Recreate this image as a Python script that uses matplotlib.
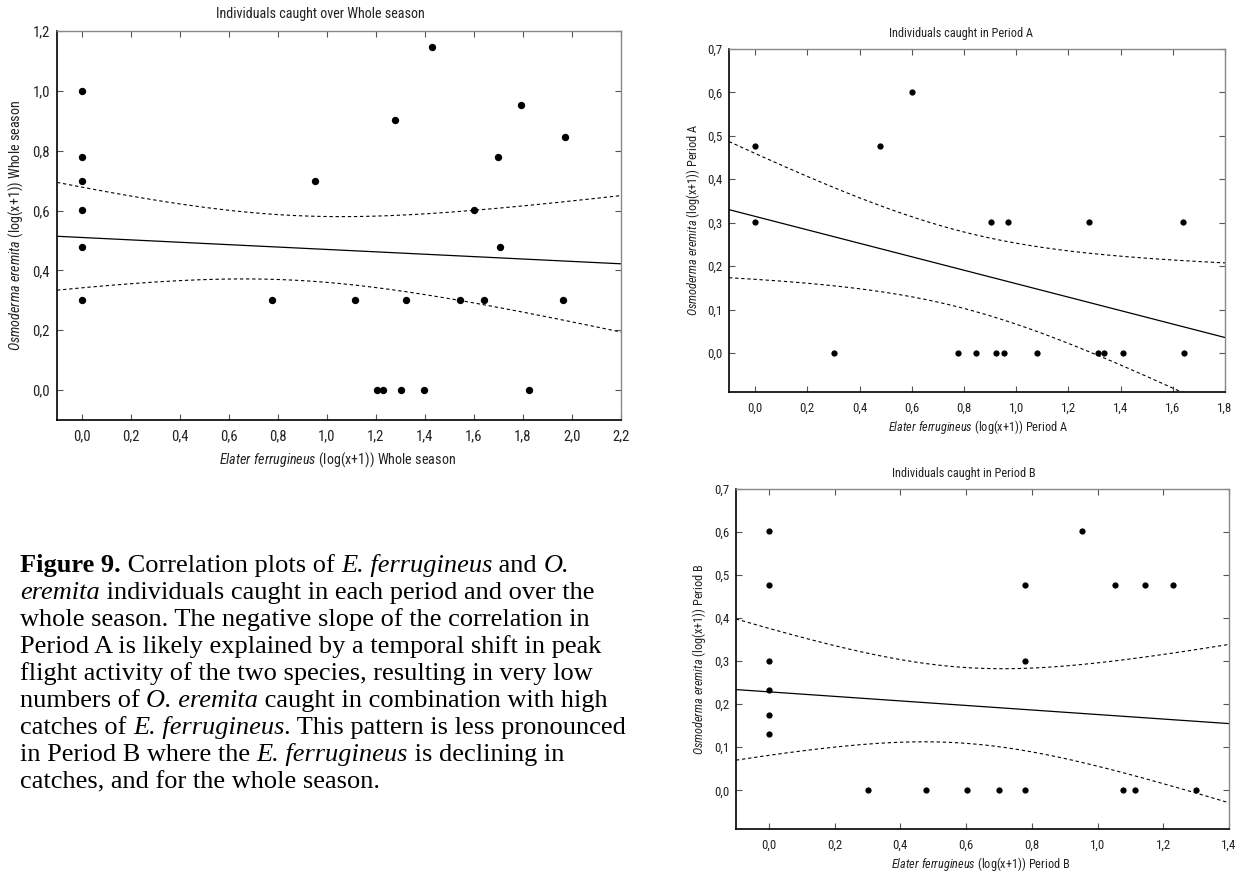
import numpy as np
import matplotlib
matplotlib.use("Agg")
import matplotlib.pyplot as plt
from matplotlib import font_manager as fm
from matplotlib.ticker import FixedLocator, FuncFormatter

W, H, DPI = 1239, 872, 100

# Whole season: E. ferrugineus (x) vs O. eremita (y), log(x+1)
whole_x = [0.0, 0.0, 0.0, 0.0, 0.0, 0.0,
           0.954, 1.279, 1.431, 1.602, 1.699, 1.792, 1.973, 1.708,
           0.778, 1.114, 1.322, 1.544, 1.643, 1.964,
           1.204, 1.230, 1.301, 1.398, 1.826]
whole_y = [1.000, 0.778, 0.699, 0.602, 0.477, 0.301,
           0.699, 0.903, 1.146, 0.602, 0.778, 0.954, 0.845, 0.477,
           0.301, 0.301, 0.301, 0.301, 0.301, 0.301,
           0.0, 0.0, 0.0, 0.0, 0.0]

# Period A
perA_x = [0.0, 0.477, 0.602,
          0.0, 0.903, 0.969, 1.279, 1.639,
          0.301, 0.778, 0.845, 0.921, 0.952, 1.079, 1.313, 1.335, 1.409, 1.642]
perA_y = [0.477, 0.477, 0.602,
          0.301, 0.301, 0.301, 0.301, 0.301,
          0.0, 0.0, 0.0, 0.0, 0.0, 0.0, 0.0, 0.0, 0.0, 0.0]

# Period B
perB_x = [0.0, 0.0, 0.778, 0.954, 1.053, 1.145, 1.229,
          0.0, 0.778, 0.0, 0.0, 0.0,
          0.301, 0.477, 0.602, 0.699, 0.778, 1.079, 1.114, 1.301]
perB_y = [0.602, 0.477, 0.477, 0.602, 0.477, 0.477, 0.477,
          0.301, 0.301, 0.233, 0.176, 0.131,
          0.0, 0.0, 0.0, 0.0, 0.0, 0.0, 0.0, 0.0]

# Fitted regression per panel: [intercept, slope]
whole_fit = [0.510, -0.040]
perA_fit = [0.3145, -0.155]
perB_fit = [0.2287, -0.0527]
# 95 % confidence band: [x centre, half-width at centre, spread per unit x]
whole_band = [0.861, 0.108, 0.150]
perA_band = [0.789, 0.088, 0.146]
perB_band = [0.592, 0.088, 0.200]

whole_xticks = [0.0, 0.2, 0.4, 0.6, 0.8, 1.0, 1.2, 1.4, 1.6, 1.8, 2.0, 2.2]
whole_yticks = [0.0, 0.2, 0.4, 0.6, 0.8, 1.0, 1.2]
perA_xticks = [0.0, 0.2, 0.4, 0.6, 0.8, 1.0, 1.2, 1.4, 1.6, 1.8]
perB_xticks = [0.0, 0.2, 0.4, 0.6, 0.8, 1.0, 1.2, 1.4]
period_yticks = [0.0, 0.1, 0.2, 0.3, 0.4, 0.5, 0.6, 0.7]

available = {f.name for f in fm.fontManager.ttflist}
SANS = [f for f in ("Liberation Sans Narrow", "Arial Narrow", "Roboto Condensed",
                    "Liberation Sans", "DejaVu Sans") if f in available][0]
NARROW = SANS in ("Liberation Sans Narrow", "Arial Narrow", "Roboto Condensed")
SERIF = "Liberation Serif" if "Liberation Serif" in available else "DejaVu Serif"
K = 1.08 if NARROW else 1.0   # narrow faces can run a little larger

plt.rcParams.update({
    "font.family": [SANS, "DejaVu Sans"],
    "mathtext.fontset": "custom",
    "mathtext.rm": SANS,
    "mathtext.it": f"{SANS}:italic",
    "mathtext.bf": f"{SANS}:bold",
})

TXT = "#222222"
fig = plt.figure(figsize=(W / DPI, H / DPI), dpi=DPI)
fig.patch.set_facecolor("white")


def px_axes(left, top, right, bottom):
    return fig.add_axes([left / W, 1 - bottom / H, (right - left) / W, (bottom - top) / H])


def comma(v, _pos):
    return f"{v:.1f}".replace(".", ",")


def panel(ax, x, y, fit, band, xlim, ylim, xticks, yticks, ms, fs):
    xs = np.linspace(xlim[0], xlim[1], 300)
    line = fit[0] + fit[1] * xs
    half = np.sqrt(band[1] ** 2 + (band[2] * (xs - band[0])) ** 2)

    ax.plot(xs, line, color="black", lw=0.9, zorder=2)
    for edge in (line + half, line - half):
        ax.plot(xs, edge, color="black", lw=0.8, ls=(0, (3, 2.5)), zorder=2)
    ax.plot(x, y, "o", color="black", ms=ms, mec="black", mew=0, zorder=3,
            clip_on=False)

    ax.set_xlim(xlim)
    ax.set_ylim(ylim)
    ax.xaxis.set_major_locator(FixedLocator(xticks))
    ax.yaxis.set_major_locator(FixedLocator(yticks))
    ax.xaxis.set_major_formatter(FuncFormatter(comma))
    ax.yaxis.set_major_formatter(FuncFormatter(comma))
    ax.tick_params(direction="in", length=4, width=0.8, color="#555555",
                   top=True, right=True, labelsize=fs, labelcolor=TXT)
    ax.tick_params(axis="x", pad=7)
    ax.tick_params(axis="y", pad=5)
    for side in ("left", "bottom"):
        ax.spines[side].set_color("black")
        ax.spines[side].set_linewidth(1.2)
    for side in ("top", "right"):
        ax.spines[side].set_color("#888888")
        ax.spines[side].set_linewidth(1.0)


def ptext(x_px, y_px, s, **kw):
    return fig.text(x_px / W, 1 - y_px / H, s, **kw)


# Whole season
ax0 = px_axes(57, 31, 621, 420)
panel(ax0, whole_x, whole_y, whole_fit, whole_band, (-0.1, 2.2), (-0.1, 1.2),
      whole_xticks, whole_yticks, 5.3, 9.8 * K)
ptext(320, 14, "Individuals caught over Whole season", fontsize=9.4 * K, color=TXT,
      ha="center", va="center")
ptext(338, 460, r"$\mathit{Elater\ ferrugineus}$ (log(x+1)) Whole season", fontsize=9.4 * K,
      color=TXT, ha="center", va="center")
ptext(16, 225, r"$\mathit{Osmoderma\ eremita}$ (log(x+1)) Whole season", fontsize=9.4 * K,
      color=TXT, ha="center", va="center", rotation=90)

# Period A
axA = px_axes(729, 49, 1225, 392)
panel(axA, perA_x, perA_y, perA_fit, perA_band, (-0.1, 1.8), (-0.09, 0.7),
      perA_xticks, period_yticks, 4.5, 8.6 * K)
ptext(961, 34, "Individuals caught in Period A", fontsize=8.2 * K, color=TXT,
      ha="center", va="center")
ptext(978, 427, r"$\mathit{Elater\ ferrugineus}$ (log(x+1)) Period A", fontsize=8.2 * K,
      color=TXT, ha="center", va="center")
ptext(693, 220, r"$\mathit{Osmoderma\ eremita}$ (log(x+1)) Period A", fontsize=8.2 * K,
      color=TXT, ha="center", va="center", rotation=90)

# Period B
axB = px_axes(736, 489, 1229, 829)
panel(axB, perB_x, perB_y, perB_fit, perB_band, (-0.1, 1.4), (-0.09, 0.7),
      perB_xticks, period_yticks, 4.5, 8.6 * K)
ptext(964, 473, "Individuals caught in Period B", fontsize=8.2 * K, color=TXT,
      ha="center", va="center")
ptext(981, 864, r"$\mathit{Elater\ ferrugineus}$ (log(x+1)) Period B", fontsize=8.2 * K,
      color=TXT, ha="center", va="center")
ptext(699, 659, r"$\mathit{Osmoderma\ eremita}$ (log(x+1)) Period B", fontsize=8.2 * K,
      color=TXT, ha="center", va="center", rotation=90)

# Caption, set as runs of regular / bold / italic text
R, B, I = ("normal", "normal"), ("bold", "normal"), ("normal", "italic")
caption = [
    [("Figure 9.", B), (" Correlation plots of ", R), ("E. ferrugineus", I), (" and ", R), ("O.", I)],
    [("eremita", I), (" individuals caught in each period and over the", R)],
    [("whole season. The negative slope of the correlation in", R)],
    [("Period A is likely explained by a temporal shift in peak", R)],
    [("flight activity of the two species, resulting in very low", R)],
    [("numbers of ", R), ("O. eremita", I), (" caught in combination with high", R)],
    [("catches of ", R), ("E. ferrugineus", I), (". This pattern is less pronounced", R)],
    [("in Period B where the ", R), ("E. ferrugineus", I), (" is declining in", R)],
    [("catches, and for the whole season.", R)],
]
CAP_SIZE = 19
renderer = fig.canvas.get_renderer()


def run_width(text, weight, style):
    kw = dict(fontsize=CAP_SIZE, family=SERIF, weight=weight, style=style)
    a = fig.text(0, 0, text + "|", **kw)
    b = fig.text(0, 0, "|", **kw)
    w = a.get_window_extent(renderer).width - b.get_window_extent(renderer).width
    a.remove()
    b.remove()
    return w


for i, line in enumerate(caption):
    x = 20.0
    y = 572 + 27 * i
    for text, (weight, style) in line:
        ptext(x, y, text, fontsize=CAP_SIZE, family=SERIF, weight=weight,
              style=style, color="black", ha="left", va="baseline")
        x += run_width(text, weight, style)

fig.savefig("out.png", dpi=DPI, facecolor="white")
